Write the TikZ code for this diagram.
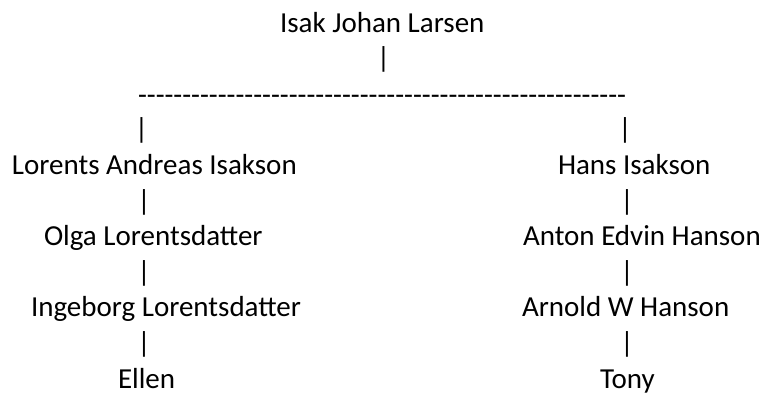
\documentclass[tikz,border=0pt]{standalone}
\usepackage{fontspec}
\setmainfont{Carlito}
% a run of separate hyphens, kept apart so they never join into dashes
\newcommand\hyphenrun[1]{\foreach\k in {1,...,#1}{-}}
\begin{document}
\begin{tikzpicture}[x=1pt,y=1pt,
  every node/.style={inner sep=0pt, outer sep=0pt, font=\fontsize{29}{35}\selectfont},
  person/.style={anchor=base west},
  bar/.style={anchor=base},
  rule/.style={anchor=base west}]
\useasboundingbox (0,0) rectangle (765,-394);
% baseline of row i is at 32 + 35.6 i
\def\rowy#1{-32-35.6*#1}
% root and the line joining both branches
\node[person] (root) at (280,{\rowy{0}}) {Isak Johan Larsen};
\node[bar] (rootbar) at (383.5,{\rowy{1}}) {|};
\node[rule] (join) at (138,{\rowy{2}-1.5}) {\hyphenrun{55}};
\node[bar] (lbar0) at (141.5,{\rowy{3}}) {|};
\node[bar] (rbar0) at (625,{\rowy{3}}) {|};
% left branch
\node[person] (l1) at (12,{\rowy{4}}) {Lorents Andreas Isakson};
\node[bar] (lbar1) at (144,{\rowy{5}}) {|};
\node[person] (l2) at (44,{\rowy{6}}) {Olga Lorentsdatter};
\node[bar] (lbar2) at (144,{\rowy{7}}) {|};
\node[person] (l3) at (31,{\rowy{8}}) {Ingeborg Lorentsdatter};
\node[bar] (lbar3) at (144,{\rowy{9}}) {|};
\node[person] (l4) at (118,{\rowy{10}}) {Ellen};
% right branch
\node[person] (r1) at (558,{\rowy{4}}) {Hans Isakson};
\node[bar] (rbar1) at (627,{\rowy{5}}) {|};
\node[person] (r2) at (523,{\rowy{6}}) {Anton Edvin Hanson};
\node[bar] (rbar2) at (627,{\rowy{7}}) {|};
\node[person] (r3) at (522,{\rowy{8}}) {Arnold W Hanson};
\node[bar] (rbar3) at (627,{\rowy{9}}) {|};
\node[person] (r4) at (600,{\rowy{10}}) {Tony};
\end{tikzpicture}
\end{document}
